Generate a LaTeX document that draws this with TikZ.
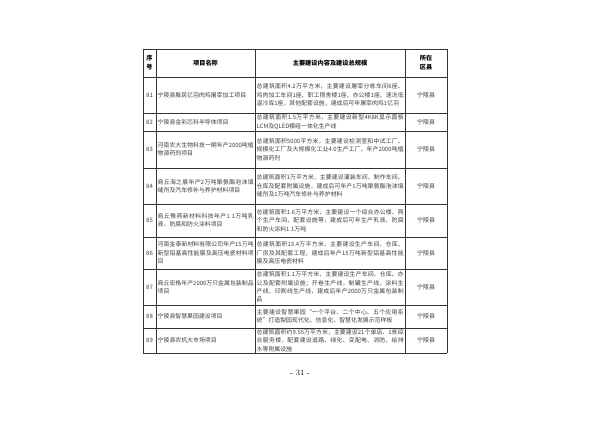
\documentclass[tikz,border=0pt]{standalone}
\usepackage{fontspec}
\newfontfamily\cjk{Noto Sans CJK SC}
\XeTeXlinebreaklocale "zh"
\XeTeXlinebreakskip=0pt plus 1pt
\begin{document}
\begin{tikzpicture}[x=1pt,y=-1pt,
  cell/.style={font=\cjk\fontsize{5.9}{8.4}\selectfont, inner sep=1pt, align=justify, anchor=west, text=black!75},
  ctr/.style={font=\cjk\fontsize{6.0}{9}\selectfont, inner sep=1pt, align=center, text=black!75},
  hd/.style={font=\cjk\bfseries\fontsize{6.2}{9}\selectfont, inner sep=1pt, align=center},
  grid/.style={line width=0.6pt, black!80}]
\useasboundingbox[fill=white] (0,0) rectangle (600,424);
\def\xa{143}\def\xb{156}\def\xc{255}\def\xd{405}\def\xe{447}
\foreach \y in {49,77,113,131,168,204,237,269,305,328,353}
  \draw[grid] (\xa,\y) -- (\xe,\y);
\foreach \x in {143,156,255,405,447}
  \draw[grid] (\x,49) -- (\x,353);
\node[hd] (h1) at (149.5,63) {序\\号};
\node[hd] (h2) at (205.5,63) {项目名称};
\node[hd] (h3) at (330,63) {主要建设内容及建设总规模};
\node[hd] (h4) at (426,63) {所在\\区县};
\newcommand\rowx[5]{%
  \node[ctr] (n#2) at (149.5,#1) {#2};
  \node[cell, text width=96pt] (p#2) at (\xb+0.5,#1) {#3};
  \node[cell, text width=147pt] (c#2) at (\xc+0.5,#1) {#4};
  \node[ctr] (d#2) at (426,#1) {#5};}
\rowx{95}{81}{宁陵县聚民亿羽肉鸡屠宰加工项目}{总建筑面积4.2万平方米，主要建设屠宰分栋车间6座、鸡肉加工车间1座、职工宿舍楼1座、办公楼1座、速冻低温冷库1座，其他配套设施，建成后可年屠宰肉鸡1亿羽}{宁陵县}
\rowx{122}{82}{宁陵县金彩芯科半导体项目}{总建筑面积1.5万平方米，主要建设新型4K8K显示面板LCM及QLED模组一体化生产线}{宁陵县}
\rowx{149.5}{83}{河南农大生物科技一期年产2000吨植物源药剂项目}{总建筑面积5000平方米，主要建设检测室和中试工厂、规模化工厂及大规模化工业4.0生产工厂，年产2000吨植物源药剂}{宁陵县}
\rowx{186}{84}{商丘海之晨年产2万吨聚氨酯泡沫填缝剂及汽车修补与养护材料项目}{总建筑面积1万平方米，主要建设灌装车间、制作车间、仓库及配套附属设施，建成后可年产1万吨聚氨酯泡沫填缝剂及1万吨汽车修补与养护材料}{宁陵县}
\rowx{220.5}{85}{商丘豫燕新材料科技年产1.1万吨乳液、防腐和防火涂料项目}{总建筑面积1.6万平方米，主要建设一个综合办公楼、两个生产车间、配套设施等，建成后可年生产乳液、防腐和防火涂料1.1万吨}{宁陵县}
\rowx{253}{86}{河南金泰新材料有限公司年产15万吨新型铝基高性能膜及高压电瓷材料项目}{总建筑面积13.4万平方米，主要建设生产车间、仓库、厂房及其配套工程，建成后年产15万吨新型铝基高性能膜及高压电瓷材料}{宁陵县}
\rowx{287}{87}{商丘宏格年产2000万只金属包装制品项目}{总建筑面积1.1万平方米，主要建设生产车间、仓库、办公及配套附属设施；开卷生产线，制罐生产线，涂料生产线，印刷线生产线，建成后年产2000万只金属包装制品}{宁陵县}
\rowx{316.5}{88}{宁陵县智慧果园建设项目}{主要建设智慧果园“一个平台、二个中心、五个应用系统”打造梨园现代化、信息化、智慧化发展示范样板}{宁陵县}
\rowx{340.5}{89}{宁陵县农机大市场项目}{总建筑面积约9.55万平方米，主要建设21个单店、1栋综合服务楼，配套建设道路、绿化、变配电、消防、给排水等附属设施}{宁陵县}
\node[font=\fontsize{8}{9}\selectfont] (pg) at (300,373) {- 31 -};
\end{tikzpicture}
\end{document}
